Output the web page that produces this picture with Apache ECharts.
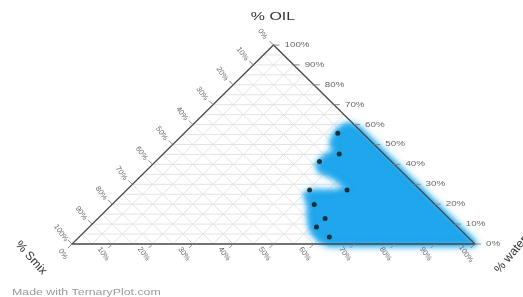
<!DOCTYPE html>
<html>
<head>
<meta charset="utf-8">
<script src="https://cdn.jsdelivr.net/npm/echarts@6/dist/echarts.min.js"></script>
<style>
  html, body { margin: 0; background: #fff; }
  #chart { width: 523px; height: 297px; }
</style>
</head>
<body>
<div id="chart"></div>
<script>
// tick labels on all three sides (percent)
const tickValues = [0, 10, 20, 30, 40, 50, 60, 70, 80, 90, 100];
// light grid lines every 5%
const gridValues = [5, 10, 15, 20, 25, 30, 35, 40, 45, 50, 55, 60, 65, 70, 75, 80, 85, 90, 95];

// black measured points (oil / water / smix, %)
const pointOil   = [55.7, 45.2, 41.4, 27.1, 27.1, 19.8, 12.8, 8.5, 3.5];
const pointWater = [38.1, 43.7, 40.7, 45.4, 54.7, 50.2, 56.4, 56.4, 62.1];
const pointSmix  = [6.2, 11.1, 17.9, 27.5, 18.2, 30.0, 30.8, 35.1, 34.4];

// outline of the blue region (oil / water / smix, %)
const regionOil   = [58, 60, 57, 51, 46, 44, 40, 37, 34, 28, 26, 26, 25, 20, 13, 7, 2, 0, 0];
const regionWater = [42, 38.5, 37.5, 39, 42.5, 41, 41, 43, 48, 55, 52.5, 46.5, 45.5, 49, 52.5, 56, 60.5, 64, 100];
const regionSmix  = [0, 1.5, 5.5, 10, 11.5, 15, 19, 20, 18, 17, 21.5, 27.5, 29.5, 31, 34.5, 37, 37.5, 36, 0];

const FONT = '"Liberation Sans", Arial, sans-serif';
const BLUE = '#1fa6ec';

// ternary -> cartesian (x: 0..100 across the base, y: 0..100 up to the apex)
function toXY(oil, water, smix) {
  const s = oil + water + smix;
  const o = oil / s * 100, w = water / s * 100;
  return [w + o / 2, o];
}
const rad = d => d * Math.PI / 180;

function txt(x, y, text, opt) {
  return {
    type: 'text', x: x, y: y, rotation: opt.rotation || 0, scaleX: opt.scaleX || 1,
    style: {
      text: text, fill: opt.color || '#666', font: opt.font,
      align: opt.align || 'center', textAlign: opt.align || 'center',
      verticalAlign: 'middle', textVerticalAlign: 'middle'
    }
  };
}
function seg(p, q, color, w) {
  return { type: 'line', shape: { x1: p[0], y1: p[1], x2: q[0], y2: q[1] }, style: { stroke: color, lineWidth: w } };
}

function renderGrid(params, api) {
  const children = [];
  gridValues.forEach(s => {
    const pairs = [
      [toXY(s, 0, 100 - s), toXY(s, 100 - s, 0)],
      [toXY(0, s, 100 - s), toXY(100 - s, s, 0)],
      [toXY(0, 100 - s, s), toXY(100 - s, 0, s)]
    ];
    pairs.forEach(pq => children.push(seg(api.coord(pq[0]), api.coord(pq[1]), '#e3e3e3', 1)));
  });
  return { type: 'group', children: children };
}

// the region is soft-edged: draw only its blurred shadow (shape moved off-canvas, shadow moved back)
const SHIFT = 1000;
function renderRegion(params, api) {
  const pts = regionOil.map((o, i) => {
    const p = api.coord(toXY(o, regionWater[i], regionSmix[i]));
    return [p[0] - SHIFT, p[1]];
  });
  const blurred = blur => ({
    type: 'polygon',
    shape: { points: pts },
    style: {
      fill: BLUE, stroke: BLUE, lineWidth: 2, lineJoin: 'round',
      shadowBlur: blur, shadowColor: BLUE, shadowOffsetX: SHIFT, shadowOffsetY: 0
    }
  });
  return { type: 'group', children: [blurred(9), blurred(5)] };
}

function renderFrame(params, api) {
  const A = api.coord(toXY(100, 0, 0));
  const B = api.coord(toXY(0, 0, 100));
  const C = api.coord(toXY(0, 100, 0));
  const children = [{
    type: 'polygon', shape: { points: [A, B, C] },
    style: { fill: 'none', stroke: '#474747', lineWidth: 1.3 }
  }];
  const side = '7px ' + FONT;
  const slant = '7.5px ' + FONT;
  tickValues.forEach(t => {
    // oil on the right side
    const r = api.coord(toXY(t, 100 - t, 0));
    children.push(seg(r, [r[0] + 6, r[1]], '#888', 1));
    children.push(txt(r[0] + 11, r[1], t + '%', { font: side, align: 'left', scaleX: 1.4 }));
    // smix on the left side
    const l = api.coord(toXY(100 - t, 0, t));
    children.push(seg(l, [l[0] - 4, l[1] - 4], '#888', 1));
    children.push(txt(l[0] - 11, l[1] - 11, t + '%', { font: slant, rotation: rad(-55) }));
    // water on the base
    const b = api.coord(toXY(0, t, 100 - t));
    children.push(seg(b, [b[0] - 4, b[1] + 4], '#888', 1));
    children.push(txt(b[0] - 9, b[1] + 10, t + '%', { font: slant, rotation: rad(-55) }));
  });
  return { type: 'group', children: children };
}

const chart = echarts.init(document.getElementById('chart'));
chart.setOption({
  animation: false,
  grid: { left: 72, right: 48, top: 45, bottom: 53 },
  xAxis: { type: 'value', min: 0, max: 100, show: false },
  yAxis: { type: 'value', min: 0, max: 100, show: false },
  graphic: [
    txt(273, 17, '% OIL', { font: '11px ' + FONT, color: '#333', scaleX: 1.45 }),
    txt(31, 258, '% Smix', { font: '12px ' + FONT, color: '#333', rotation: rad(-48) }),
    txt(511, 255, '% water', { font: '12px ' + FONT, color: '#333', rotation: rad(50) }),
    txt(12, 293, 'Made with TernaryPlot.com', { font: '9px ' + FONT, color: '#9a9a9a', align: 'left', scaleX: 1.37 })
  ],
  series: [
    { type: 'custom', renderItem: renderGrid, data: [[0, 0]], z: 1, silent: true },
    { type: 'custom', renderItem: renderRegion, data: [[0, 0]], z: 2, silent: true },
    { type: 'custom', renderItem: renderFrame, data: [[0, 0]], z: 3, silent: true },
    {
      type: 'scatter', z: 4, symbolSize: 5,
      itemStyle: { color: '#111' },
      data: pointOil.map((o, i) => toXY(o, pointWater[i], pointSmix[i]))
    }
  ]
});
</script>
</body>
</html>
